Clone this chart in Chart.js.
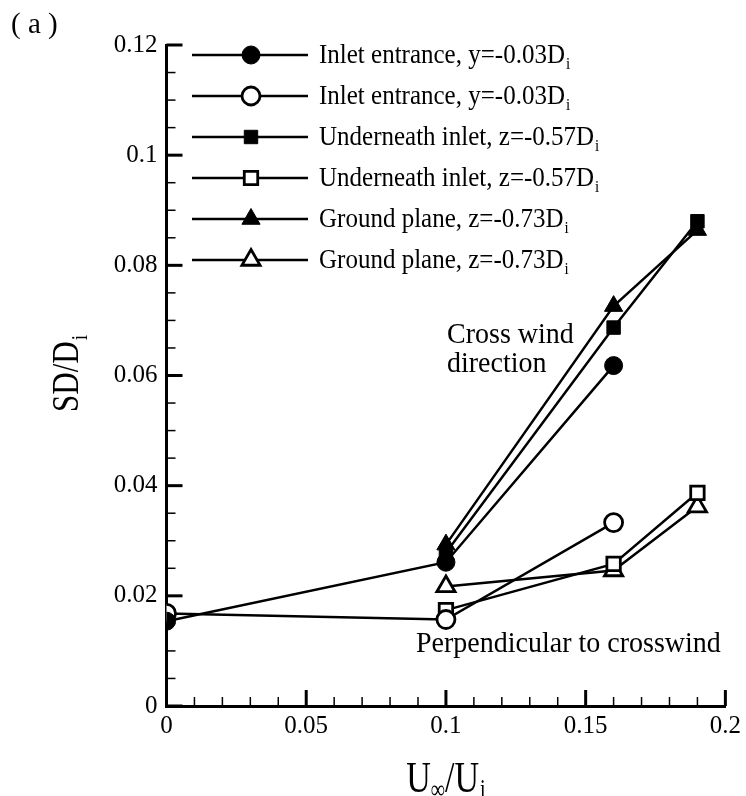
<!DOCTYPE html>
<html>
<head>
<meta charset="utf-8">
<script src="https://cdn.jsdelivr.net/npm/chart.js@4.4.1/dist/chart.umd.min.js"></script>
<style>
  html, body { margin: 0; padding: 0; background: #fff; }
  #wrap { width: 746px; height: 796px; }
</style>
</head>
<body>
<div id="wrap"><canvas id="c" width="746" height="796"></canvas></div>
<script>
// Velocity ratio U_inf/U_i at which each probe was sampled
const xInlet = [0, 0.1, 0.16];
const xLower = [0.1, 0.16, 0.19];

// Standard deviation of vortex position, SD/D_i
const inletCross   = [0.0154, 0.0261, 0.0618];
const inletPerp    = [0.0168, 0.0157, 0.0333];
const underCross   = [0.0278, 0.0687, 0.0880];
const underPerp    = [0.0174, 0.0258, 0.0387];
const groundCross  = [0.0293, 0.0726, 0.0864];
const groundPerp   = [0.0217, 0.0246, 0.0362];

const seriesNames = [
  'Inlet entrance, y=-0.03D',
  'Inlet entrance, y=-0.03D',
  'Underneath inlet, z=-0.57D',
  'Underneath inlet, z=-0.57D',
  'Ground plane, z=-0.73D',
  'Ground plane, z=-0.73D'
];

const xTickLabels = ['0', '0.05', '0.1', '0.15', '0.2'];
const yTickLabels = ['0', '0.02', '0.04', '0.06', '0.08', '0.1', '0.12'];

const SERIF = '"Liberation Serif", "Times New Roman", serif';

function pts(xs, ys) { return xs.map((x, i) => ({ x: x, y: ys[i] })); }

function series(label, xs, ys, style, filled, radius) {
  return {
    label: label,
    data: pts(xs, ys),
    borderColor: '#000',
    borderWidth: 2.5,
    pointStyle: style,
    pointRadius: radius,
    pointHoverRadius: radius,
    pointBackgroundColor: filled ? '#000' : '#fff',
    pointBorderColor: '#000',
    pointBorderWidth: filled ? 1 : 2.8,
    tension: 0,
    fill: false
  };
}

// text with a trailing subscript (e.g. D_i); stretch scales glyphs vertically
function drawSub(ctx, main, sub, x, y, size, align, stretch) {
  const k = stretch || 1;
  ctx.font = size + 'px ' + SERIF;
  const w1 = ctx.measureText(main).width;
  const subSize = Math.round(size * 0.6);
  ctx.font = subSize + 'px ' + SERIF;
  const w2 = sub ? ctx.measureText(sub).width + 1 : 0;
  let x0 = x;
  if (align === 'center') x0 = x - (w1 + w2) / 2;
  ctx.save();
  ctx.translate(x0, y);
  ctx.scale(1, k);
  ctx.textAlign = 'left';
  ctx.textBaseline = 'alphabetic';
  ctx.font = size + 'px ' + SERIF;
  ctx.fillText(main, 0, 0);
  if (sub) {
    ctx.font = subSize + 'px ' + SERIF;
    ctx.fillText(sub, w1 + 1, size * 0.22);
  }
  ctx.restore();
}

// inward major/minor tick marks along both axes
const innerTicks = {
  id: 'innerTicks',
  afterDraw(chart) {
    const ctx = chart.ctx;
    const xs = chart.scales.x, ys = chart.scales.y;
    const left = chart.chartArea.left, bottom = chart.chartArea.bottom;
    ctx.save();
    ctx.strokeStyle = '#000';
    const yMaj = ys.ticks.map(t => t.value);
    for (let i = 0; i < yMaj.length; i++) {
      const p = ys.getPixelForValue(yMaj[i]);
      ctx.lineWidth = 3;
      ctx.beginPath(); ctx.moveTo(left, p); ctx.lineTo(left + 16, p); ctx.stroke();
      if (i < yMaj.length - 1) {
        const step = (yMaj[i + 1] - yMaj[i]) / 4;
        ctx.lineWidth = 1.5;
        for (let k = 1; k < 4; k++) {
          const q = ys.getPixelForValue(yMaj[i] + k * step);
          ctx.beginPath(); ctx.moveTo(left, q); ctx.lineTo(left + 9, q); ctx.stroke();
        }
      }
    }
    const xMaj = xs.ticks.map(t => t.value);
    for (let i = 0; i < xMaj.length; i++) {
      const p = xs.getPixelForValue(xMaj[i]);
      ctx.lineWidth = 3;
      ctx.beginPath(); ctx.moveTo(p, bottom); ctx.lineTo(p, bottom - 16); ctx.stroke();
      if (i < xMaj.length - 1) {
        const step = (xMaj[i + 1] - xMaj[i]) / 5;
        ctx.lineWidth = 1.5;
        for (let k = 1; k < 5; k++) {
          const q = xs.getPixelForValue(xMaj[i] + k * step);
          ctx.beginPath(); ctx.moveTo(q, bottom); ctx.lineTo(q, bottom - 9); ctx.stroke();
        }
      }
    }
    ctx.restore();
  }
};

// legend rows: line through marker, label with subscript
const lineLegend = {
  id: 'lineLegend',
  afterDraw(chart) {
    const ctx = chart.ctx;
    ctx.save();
    chart.data.datasets.forEach((ds, i) => {
      const y = 55 + i * 41;
      ctx.strokeStyle = '#000';
      ctx.lineWidth = 2.5;
      ctx.beginPath(); ctx.moveTo(192, y); ctx.lineTo(308, y); ctx.stroke();
      ctx.fillStyle = ds.pointBackgroundColor;
      ctx.strokeStyle = '#000';
      ctx.lineWidth = ds.pointBorderWidth;
      Chart.helpers.drawPoint(ctx, {
        pointStyle: ds.pointStyle, radius: ds.pointRadius,
        borderWidth: ds.pointBorderWidth, rotation: 0
      }, 251, y);
      ctx.fillStyle = '#000';
      drawSub(ctx, ds.label, 'i', 319, y + 8, 25, 'left', 1.06);
    });
    ctx.restore();
  }
};

// axis titles, panel tag and region notes
const captions = {
  id: 'captions',
  afterDraw(chart) {
    const ctx = chart.ctx;
    const ca = chart.chartArea;
    ctx.save();
    ctx.fillStyle = '#000';

    // x title: U_inf / U_i
    const cx = (ca.left + ca.right) / 2;
    const big = 34, small = 20, k = 1.32, base = 792;
    ctx.font = big + 'px ' + SERIF;
    const wU = ctx.measureText('U').width;
    const wS = ctx.measureText('/').width;
    ctx.font = small + 'px ' + SERIF;
    const wInf = ctx.measureText('\u221E').width;
    const wi = ctx.measureText('i').width;
    const total = wU + wInf + wS + wU + wi + 1;
    let x0 = cx - total / 2;
    ctx.textAlign = 'left'; ctx.textBaseline = 'alphabetic';
    const put = (txt, size, x, dy) => {
      ctx.save(); ctx.translate(x, base + dy); ctx.scale(1, k);
      ctx.font = size + 'px ' + SERIF; ctx.fillText(txt, 0, 0); ctx.restore();
    };
    put('U', big, x0, 0); x0 += wU;
    put('\u221E', small, x0, 6); x0 += wInf;
    put('/', big, x0, 0); x0 += wS;
    put('U', big, x0, 0); x0 += wU + 1;
    put('i', small, x0, 6);

    // y title: SD/D_i, rotated
    ctx.save();
    ctx.translate(78, (ca.top + ca.bottom) / 2 - 2);
    ctx.rotate(-Math.PI / 2);
    drawSub(ctx, 'SD/D', 'i', 0, 0, 31, 'center', 1.25);
    ctx.restore();

    ctx.textAlign = 'left'; ctx.textBaseline = 'alphabetic';
    drawSub(ctx, '( a )', '', 11, 33, 29, 'left', 1.0);
    drawSub(ctx, 'Cross wind', '', 447, 343, 28, 'left', 1.04);
    drawSub(ctx, 'direction', '', 447, 372, 28, 'left', 1.04);
    drawSub(ctx, 'Perpendicular to crosswind', '', 416, 652, 28, 'left', 1.04);
    ctx.restore();
  }
};

const tickFont = { family: SERIF, size: 25 };

new Chart(document.getElementById('c'), {
  type: 'line',
  data: {
    datasets: [
      series(seriesNames[0], xInlet, inletCross, 'circle', true, 9),
      series(seriesNames[1], xInlet, inletPerp, 'circle', false, 9),
      series(seriesNames[2], xLower, underCross, 'rect', true, 9.5),
      series(seriesNames[3], xLower, underPerp, 'rect', false, 9.5),
      series(seriesNames[4], xLower, groundCross, 'triangle', true, 10.5),
      series(seriesNames[5], xLower, groundPerp, 'triangle', false, 10.5)
    ]
  },
  options: {
    responsive: false,
    animation: false,
    events: [],
    layout: { padding: { top: 45, right: 19.5, left: 0, bottom: 0 } },
    plugins: { legend: { display: false }, tooltip: { enabled: false } },
    scales: {
      x: {
        type: 'linear', min: 0, max: 0.2,
        grid: { display: false, drawTicks: false },
        border: { display: true, color: '#000', width: 3 },
        ticks: {
          stepSize: 0.05, color: '#000', font: tickFont, padding: 5,
          maxRotation: 0, autoSkip: false,
          callback: (v, i) => xTickLabels[i]
        },
        afterFit: s => { s.height = 90; }
      },
      y: {
        type: 'linear', min: 0, max: 0.12,
        grid: { display: false, drawTicks: false },
        border: { display: true, color: '#000', width: 3 },
        ticks: {
          stepSize: 0.02, color: '#000', font: tickFont, padding: 9,
          autoSkip: false,
          callback: (v, i) => yTickLabels[i]
        },
        afterFit: s => { s.width = 166.5; }
      }
    }
  },
  plugins: [innerTicks, lineLegend, captions]
});
</script>
</body>
</html>
